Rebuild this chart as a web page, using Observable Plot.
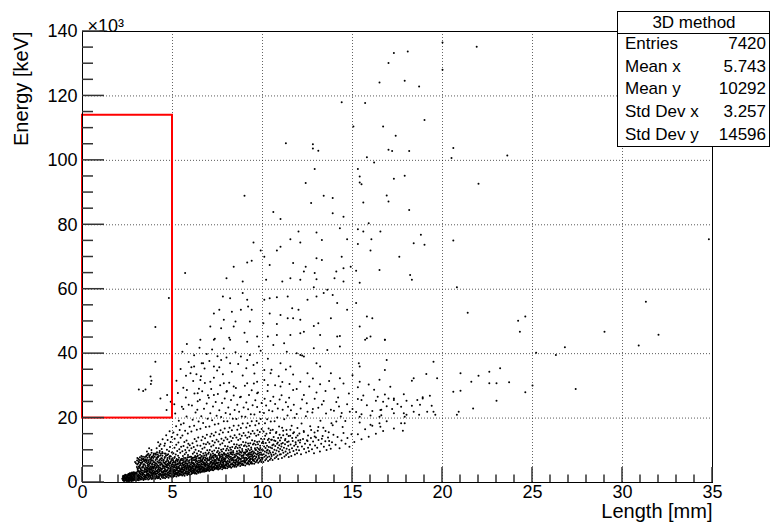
<!DOCTYPE html>
<html><head><meta charset="utf-8">
<script src="https://cdn.jsdelivr.net/npm/d3@7"></script>
<script src="https://cdn.jsdelivr.net/npm/@observablehq/plot@0.6"></script>
<style>
html,body{margin:0;padding:0;background:#fff;overflow:hidden;}
#chart{position:relative;width:771px;height:525px;}
#ticks{position:absolute;left:0;top:0;pointer-events:none;overflow:visible;}
</style></head><body><div id="chart"></div>
<script>
// Length [mm], Energy [keV ×10^3]
const coreBand = [
[2.21,1.2],[2.25,0.8],[2.28,1.6],[2.31,0.5],[2.33,2.0],[2.36,1.1],[2.38,1.4],[2.41,0.7],[2.43,1.9],[2.45,1.0],[2.47,2.3],[2.49,1.5],[2.3,1.3],[2.4,0.9],
[2.51,0.6],[2.52,1.8],[2.54,1.2],[2.55,2.6],[2.57,0.9],[2.58,2.1],[2.6,1.5],[2.62,0.5],[2.63,2.9],[2.65,1.1],[2.67,1.9],[2.68,2.4],[2.7,0.8],[2.72,1.4],[2.74,2.2],[2.75,3.1],[2.77,1.0],[2.79,1.7],[2.81,2.6],[2.83,0.6],[2.85,1.3],[2.86,2.0],[2.88,2.8],[2.9,1.6],[2.92,0.9],[2.94,2.3],[2.96,1.2],[2.98,3.0],[2.92,6.4],[2.97,6.0],
[3.01,1.4],[3.02,2.7],[3.04,0.8],[3.05,3.3],[3.07,1.9],[3.08,1.1],[3.1,2.4],[3.12,3.6],[3.13,0.7],[3.15,1.6],[3.17,2.9],[3.18,2.1],[3.2,1.2],[3.22,3.4],[3.23,0.9],[3.25,2.5],[3.27,1.7],[3.29,3.0],[3.3,1.0],[3.32,2.2],[3.34,3.7],[3.35,1.4],[3.37,2.7],[3.39,0.8],[3.41,1.9],[3.43,3.2],[3.45,2.4],[3.46,1.2],[3.48,3.5],[3.49,1.7],
[3.06,4.3],[3.16,4.7],[3.24,4.1],[3.33,4.9],[3.44,4.4],
[3.03,6.8],[3.09,5.9],[3.11,7.3],[3.14,6.3],[3.19,7.8],[3.21,5.5],[3.26,6.9],[3.28,7.5],[3.31,6.1],[3.36,8.0],[3.38,7.1],[3.4,5.7],[3.42,6.6],[3.47,7.9],[3.5,6.3],
[3.51,2.0],[3.52,1.0],[3.54,3.1],[3.55,1.6],[3.57,3.9],[3.58,2.5],[3.6,1.3],[3.62,3.4],[3.63,2.1],[3.65,0.9],[3.66,2.8],[3.68,1.7],[3.7,4.0],[3.71,2.3],[3.73,1.2],[3.75,3.6],[3.76,2.0],[3.78,3.0],[3.8,1.5],[3.82,2.6],[3.83,4.2],[3.85,1.1],[3.87,3.3],[3.88,2.2],[3.9,1.8],[3.92,3.8],[3.93,2.9],[3.95,1.4],[3.97,2.5],[3.99,3.5],
[3.53,4.6],[3.61,4.3],[3.67,4.9],[3.74,4.5],[3.79,5.0],[3.86,4.6],[3.94,4.4],[3.98,4.9],
[3.52,7.2],[3.56,8.4],[3.59,6.0],[3.61,7.7],[3.64,5.6],[3.66,8.9],[3.69,6.7],[3.72,7.9],[3.74,5.9],[3.77,8.6],[3.79,6.4],[3.81,7.3],[3.84,9.2],[3.86,5.5],[3.89,8.0],[3.91,6.9],[3.93,7.6],[3.96,8.8],[3.98,6.2],[3.58,9.6],[3.83,10.1],[3.7,10.6],
[4.01,1.9],[4.02,3.2],[4.04,1.2],[4.05,4.1],[4.07,2.5],[4.09,1.6],[4.1,3.6],[4.12,2.1],[4.13,4.6],[4.15,1.3],[4.17,2.9],[4.18,3.9],[4.2,1.8],[4.22,2.4],[4.23,4.3],[4.25,1.5],[4.27,3.3],[4.28,2.0],[4.3,4.7],[4.32,2.7],[4.33,1.1],[4.35,3.7],[4.37,2.2],[4.38,4.0],[4.4,1.7],[4.42,3.0],[4.43,2.5],[4.45,4.4],[4.47,1.4],[4.48,3.5],[4.5,2.3],
[4.03,5.3],[4.06,7.0],[4.08,8.6],[4.11,5.9],[4.14,9.4],[4.16,6.5],[4.19,7.8],[4.21,5.2],[4.24,8.2],[4.26,6.1],[4.29,9.8],[4.31,7.2],[4.34,5.6],[4.36,8.9],[4.39,6.8],[4.41,7.5],[4.44,5.1],[4.46,9.1],[4.49,6.4],
[4.51,3.1],[4.52,1.6],[4.54,4.4],[4.55,2.3],[4.57,3.7],[4.59,1.3],[4.6,2.8],[4.62,5.0],[4.63,2.0],[4.65,3.4],[4.67,4.7],[4.68,1.7],[4.7,2.6],[4.72,3.9],[4.73,5.2],[4.75,2.1],[4.77,3.2],[4.78,1.5],[4.8,4.3],[4.82,2.7],[4.83,3.6],[4.85,5.1],[4.87,1.9],[4.88,2.9],[4.9,4.1],[4.92,3.3],[4.93,2.3],[4.95,4.8],[4.97,1.7],[4.99,3.6],
[4.53,6.1],[4.56,7.6],[4.58,9.0],[4.61,5.7],[4.64,8.3],[4.66,6.6],[4.69,10.2],[4.71,7.1],[4.74,5.8],[4.76,8.8],[4.79,6.3],[4.81,9.7],[4.84,7.4],[4.86,11.0],[4.89,6.0],[4.91,8.1],[4.94,7.0],[4.96,9.3],[4.98,5.6],
[5.01,2.5],[5.02,4.2],[5.04,1.8],[5.06,3.4],[5.07,5.4],[5.09,2.8],[5.1,4.0],[5.12,2.0],[5.14,3.6],[5.15,5.7],[5.17,2.6],[5.19,4.6],[5.2,3.1],[5.22,1.9],[5.24,5.0],[5.25,3.8],[5.27,2.3],[5.29,4.3],[5.3,5.6],[5.32,3.0],[5.34,2.1],[5.35,4.9],[5.37,3.5],[5.39,2.7],[5.4,5.3],[5.42,4.0],[5.44,2.4],[5.45,3.3],[5.47,5.8],[5.49,4.5],
[5.51,3.0],[5.52,5.1],[5.54,2.2],[5.56,4.0],[5.57,6.2],[5.59,3.3],[5.6,4.7],[5.62,2.5],[5.64,5.6],[5.65,3.8],[5.67,2.1],[5.69,4.4],[5.7,6.4],[5.72,3.1],[5.74,5.2],[5.75,2.7],[5.77,4.1],[5.79,6.0],[5.8,3.5],[5.82,2.3],[5.84,4.8],[5.85,5.8],[5.87,3.0],[5.89,4.3],[5.9,2.6],[5.92,6.3],[5.94,3.7],[5.95,5.0],[5.97,2.4],[5.99,4.5],
[6.01,3.4],[6.02,5.6],[6.04,2.6],[6.06,4.5],[6.07,6.7],[6.09,3.7],[6.1,5.2],[6.12,2.9],[6.14,6.1],[6.15,4.2],[6.17,3.1],[6.19,5.0],[6.2,6.9],[6.22,3.6],[6.24,5.7],[6.25,2.8],[6.27,4.6],[6.29,6.4],[6.3,3.9],[6.32,5.3],[6.34,2.7],[6.35,4.9],[6.37,6.6],[6.39,3.3],[6.4,5.5],[6.42,4.1],[6.44,3.0],[6.45,6.2],[6.47,4.7],[6.49,3.6],
[6.51,4.0],[6.52,6.3],[6.54,3.1],[6.56,5.1],[6.57,7.3],[6.59,4.3],[6.6,5.9],[6.62,3.4],[6.64,6.8],[6.65,4.8],[6.67,3.6],[6.69,5.6],[6.7,7.5],[6.72,4.2],[6.74,6.3],[6.75,3.3],[6.77,5.2],[6.79,7.0],[6.8,4.5],[6.82,6.0],[6.84,3.5],[6.85,5.5],[6.87,7.4],[6.89,3.9],[6.9,6.2],[6.92,4.7],[6.94,3.7],[6.95,6.9],[6.97,5.3],[6.99,4.1],
[7.01,4.6],[7.03,6.8],[7.04,3.6],[7.06,5.7],[7.08,7.9],[7.09,4.9],[7.11,6.4],[7.13,3.9],[7.14,7.3],[7.16,5.3],[7.18,4.2],[7.19,6.1],[7.21,8.1],[7.23,4.7],[7.24,6.9],[7.26,3.8],[7.28,5.8],[7.29,7.6],[7.31,5.0],[7.33,6.6],[7.34,4.1],[7.36,6.0],[7.38,8.0],[7.39,4.5],[7.41,6.7],[7.43,5.2],[7.44,4.3],[7.46,7.4],[7.48,5.9],[7.49,4.8],
[7.51,5.1],[7.53,7.3],[7.54,4.0],[7.56,6.2],[7.58,8.5],[7.59,5.4],[7.61,6.9],[7.63,4.3],[7.64,7.9],[7.66,5.8],[7.68,4.7],[7.69,6.6],[7.71,8.7],[7.73,5.2],[7.74,7.4],[7.76,4.1],[7.78,6.3],[7.79,8.2],[7.81,5.5],[7.83,7.1],[7.84,4.5],[7.86,6.5],[7.88,8.6],[7.89,4.9],[7.91,7.2],[7.93,5.7],[7.94,4.4],[7.96,8.0],[7.98,6.4],[7.99,5.3],
[8.01,5.6],[8.03,7.8],[8.04,4.4],[8.06,6.7],[8.08,9.1],[8.09,5.9],[8.11,7.4],[8.13,4.8],[8.14,8.5],[8.16,6.3],[8.18,5.2],[8.19,7.1],[8.21,9.3],[8.23,5.7],[8.24,8.0],[8.26,4.6],[8.28,6.8],[8.29,8.8],[8.31,6.0],[8.33,7.6],[8.34,5.0],[8.36,7.0],[8.38,9.2],[8.39,5.4],[8.41,7.7],[8.43,6.2],[8.44,4.9],[8.46,8.6],[8.48,6.9],[8.49,5.8],
[8.51,6.1],[8.53,8.4],[8.54,4.9],[8.56,7.2],[8.58,9.7],[8.59,6.4],[8.61,8.0],[8.63,5.3],[8.64,9.1],[8.66,6.8],[8.68,5.7],[8.69,7.7],[8.71,9.9],[8.73,6.2],[8.74,8.6],[8.76,5.1],[8.78,7.4],[8.79,9.4],[8.81,6.5],[8.83,8.2],[8.84,5.5],[8.86,7.6],[8.88,9.8],[8.89,5.9],[8.91,8.3],[8.93,6.7],[8.94,5.4],[8.96,9.2],[8.98,7.5],[8.99,6.3],
[9.01,6.6],[9.03,8.9],[9.04,5.3],[9.06,7.7],[9.08,10.2],[9.09,6.9],[9.11,8.5],[9.13,5.8],[9.14,9.6],[9.16,7.3],[9.18,6.2],[9.19,8.2],[9.21,10.4],[9.23,6.7],[9.24,9.1],[9.26,5.6],[9.28,7.9],[9.29,9.9],[9.31,7.0],[9.33,8.7],[9.34,6.0],[9.36,8.1],[9.38,10.3],[9.39,6.4],[9.41,8.8],[9.43,7.2],[9.44,5.9],[9.46,9.7],[9.48,8.0],[9.49,6.8],
[9.51,7.1],[9.53,9.4],[9.54,5.8],[9.56,8.2],[9.58,10.6],[9.59,7.4],[9.61,9.0],[9.63,6.3],[9.64,10.1],[9.66,7.8],[9.68,6.7],[9.69,8.7],[9.71,10.8],[9.73,7.2],[9.74,9.6],[9.76,6.1],[9.78,8.4],[9.79,10.4],[9.81,7.5],[9.83,9.2],[9.84,6.5],[9.86,8.6],[9.88,10.7],[9.89,6.9],[9.91,9.3],[9.93,7.7],[9.94,6.4],[9.96,10.2],[9.98,8.5],[9.99,7.3],
[10.01,7.7],[10.03,10.0],[10.05,6.4],[10.07,8.8],[10.09,11.2],[10.11,8.0],[10.13,9.6],[10.15,6.9],[10.17,10.7],[10.19,8.4],[10.21,7.3],[10.23,9.3],[10.25,11.4],[10.27,7.8],[10.29,10.2],[10.31,6.7],[10.33,9.0],[10.35,11.0],[10.37,8.1],[10.39,9.8],[10.41,7.1],[10.43,9.2],[10.45,10.9],[10.47,7.5],[10.49,8.7],
[10.51,8.2],[10.53,10.6],[10.56,7.0],[10.58,9.4],[10.61,11.8],[10.63,8.6],[10.66,10.2],[10.68,7.5],[10.71,11.3],[10.73,9.0],[10.76,7.9],[10.78,9.9],[10.81,12.0],[10.83,8.4],[10.86,10.8],[10.88,7.3],[10.91,9.6],[10.93,11.6],[10.96,8.7],[10.98,10.4],
[11.02,8.8],[11.05,11.2],[11.08,7.6],[11.1,10.0],[11.13,12.3],[11.16,9.2],[11.19,10.8],[11.22,8.1],[11.25,11.9],[11.28,9.6],[11.31,8.5],[11.34,10.5],[11.37,12.6],[11.4,9.0],[11.43,11.4],[11.46,7.9],[11.49,10.2],
[11.52,9.4],[11.56,11.8],[11.6,8.2],[11.64,10.6],[11.68,12.9],[11.72,9.8],[11.76,11.4],[11.8,8.7],[11.84,12.5],[11.88,10.2],[11.92,9.1],[11.96,11.1],[11.99,13.0],
[12.03,10.0],[12.08,12.4],[12.14,8.8],[12.19,11.2],[12.25,13.5],[12.31,10.4],[12.36,12.0],[12.42,9.3],[12.47,13.1],[12.53,10.8],[12.58,9.7],[12.64,11.7],[12.69,13.8],[12.75,10.3],[12.81,12.7],[12.86,9.1],[12.92,11.5],[12.97,14.0],
[13.04,10.8],[13.11,13.2],[13.19,9.6],[13.26,12.0],[13.34,14.4],[13.41,11.1],[13.49,12.8],[13.56,10.1],[13.64,14.0],[13.71,11.6],[13.79,10.5],[13.86,12.5],[13.94,14.8],
[14.06,11.7],[14.17,14.1],[14.28,10.6],[14.39,13.0],[14.5,15.4],[14.61,12.0],[14.72,13.8],[14.83,11.1],[14.94,15.0],[14.45,17.2],
[15.1,12.6],[15.3,15.0],[15.5,13.4],[15.7,16.5],[15.9,14.2],[16.1,17.6],[16.3,15.1],[16.5,18.4],[16.7,16.0],[16.9,19.0],[15.4,18.6],[16.0,20.8],[15.2,21.9],[16.6,22.6]
];
const coreFill = [
[2.24,1.7],[2.27,0.6],[2.34,1.5],[2.39,2.2],[2.44,0.5],[2.46,1.3],[2.53,2.3],[2.56,0.7],[2.59,1.3],[2.61,2.5],[2.64,1.7],[2.69,2.9],[2.71,1.1],[2.73,0.5],[2.76,2.6],[2.78,1.5],[2.8,0.9],[2.82,2.2],[2.84,3.2],[2.87,1.0],[2.89,2.4],[2.91,1.8],[2.93,2.9],[2.95,0.7],[2.97,1.6],[2.99,2.2],
[3.02,4.8],[3.04,5.6],[3.07,3.9],[3.09,2.0],[3.12,6.6],[3.14,1.2],[3.16,3.1],[3.19,5.2],[3.21,2.6],[3.23,6.1],[3.26,3.8],[3.28,1.5],[3.31,4.6],[3.33,7.2],[3.36,2.9],[3.38,5.4],[3.41,1.1],[3.43,6.9],[3.46,4.1],[3.48,2.1],[3.5,5.1],[3.53,8.1],[3.55,3.4],[3.57,6.5],[3.6,2.8],[3.62,5.2],[3.64,7.0],[3.67,1.9],[3.69,4.3],[3.71,8.3],[3.73,3.2],[3.76,6.0],[3.78,4.9],[3.8,2.2],[3.82,7.7],[3.85,3.9],[3.87,5.8],[3.89,1.3],[3.91,4.6],[3.94,8.4],[3.96,3.0],[3.98,5.5],
[4.02,6.3],[4.04,4.5],[4.07,9.0],[4.09,2.8],[4.11,5.0],[4.14,7.3],[4.16,3.5],[4.18,8.7],[4.21,4.8],[4.23,1.4],[4.26,6.8],[4.28,3.9],[4.31,5.4],[4.33,8.4],[4.36,2.4],[4.38,6.0],[4.41,4.2],[4.43,9.5],[4.46,3.1],[4.48,7.0],[4.51,5.3],[4.53,2.6],[4.56,4.9],[4.58,7.9],[4.61,3.4],[4.63,6.4],[4.66,1.8],[4.68,5.6],[4.71,8.5],[4.73,3.0],[4.76,6.7],[4.78,4.5],[4.81,2.2],[4.83,5.9],[4.86,8.2],[4.88,3.8],[4.91,6.5],[4.93,4.4],[4.96,2.7],[4.98,7.4],
[5.02,6.1],[5.04,3.0],[5.07,4.7],[5.09,7.6],[5.12,2.4],[5.14,5.2],[5.17,3.8],[5.19,6.8],[5.22,4.4],[5.24,2.6],[5.27,5.9],[5.29,3.2],[5.32,7.1],[5.34,4.6],[5.37,2.3],[5.39,6.2],[5.42,3.6],[5.44,5.4],[5.47,4.1],[5.49,7.3],[5.52,3.5],[5.54,6.0],[5.57,4.5],[5.59,2.6],[5.62,5.3],[5.64,7.6],[5.67,3.9],[5.69,5.0],[5.72,2.9],[5.74,6.6],[5.77,4.7],[5.79,3.3],[5.82,5.7],[5.84,7.8],[5.87,4.2],[5.89,2.8],[5.92,5.2],[5.94,6.9],[5.97,3.8],[5.99,5.6],
[6.03,4.1],[6.06,6.3],[6.08,3.0],[6.11,7.7],[6.13,4.9],[6.16,3.4],[6.18,6.0],[6.21,5.4],[6.23,2.9],[6.26,7.2],[6.28,4.3],[6.31,6.8],[6.33,3.5],[6.36,5.8],[6.38,8.1],[6.41,4.6],[6.43,3.2],[6.46,5.4],[6.48,7.5],[6.51,5.0],[6.53,3.6],[6.56,6.7],[6.58,4.5],[6.61,8.0],[6.63,5.5],[6.66,3.9],[6.68,6.4],[6.71,4.7],[6.73,7.8],[6.76,5.9],[6.78,3.8],[6.81,6.9],[6.83,5.1],[6.86,4.2],[6.88,8.3],[6.91,5.6],[6.93,3.9],[6.96,7.0],[6.98,4.8],
[7.02,5.3],[7.05,7.1],[7.07,4.4],[7.1,6.0],[7.12,8.4],[7.15,4.8],[7.17,6.6],[7.2,5.5],[7.22,3.9],[7.25,7.8],[7.27,5.0],[7.3,6.3],[7.32,4.4],[7.35,8.6],[7.37,5.6],[7.4,7.0],[7.42,4.6],[7.45,6.2],[7.47,8.2],[7.5,5.8],[7.52,4.3],[7.55,6.9],[7.57,8.9],[7.6,5.1],[7.62,7.6],[7.65,4.5],[7.67,6.1],[7.7,8.0],[7.72,5.6],[7.75,6.8],[7.77,4.8],[7.8,7.7],[7.82,6.0],[7.85,9.1],[7.87,5.2],[7.9,6.7],[7.92,4.6],[7.95,7.4],[7.97,8.8],[8.0,6.2],[8.05,5.0],[8.1,8.2],[8.15,6.6],[8.2,4.9],[8.25,7.5],[8.3,9.4],[8.35,5.7],[8.4,6.9],[8.45,8.0],[8.5,5.4],
[8.55,6.7],[8.6,8.9],[8.65,5.9],[8.7,7.3],[8.75,9.5],[8.8,6.0],[8.85,8.4],[8.9,5.6],[8.95,7.8],[9.0,9.3],[9.05,6.4],[9.1,7.6],[9.15,9.8],[9.2,5.9],[9.25,8.6],[9.3,7.2],[9.35,6.3],[9.4,9.5],[9.45,7.6],[9.5,8.9],[9.55,6.6],[9.6,10.2],[9.65,8.0],[9.7,6.9],[9.75,9.0],[9.8,7.9],[9.85,10.1],[9.9,7.0],[9.95,8.8],
[10.05,12.2],[10.15,14.5],[10.25,9.9],[10.35,13.6],[10.45,16.2],[10.55,11.6],[10.65,13.0],[10.75,15.4],[10.85,12.4],[10.95,14.8],[11.05,12.0],[11.15,16.1],[11.25,13.1],[11.35,15.0],[11.45,12.7],[11.55,16.4],[11.65,13.8],[11.75,15.6],[11.85,11.9],[11.95,14.6],[12.1,13.2],[12.3,15.7],[12.5,12.9],[12.7,16.3],[12.9,14.3],[13.1,17.2],[13.3,13.6],[13.5,16.0],[13.7,12.9],[13.9,17.8]
];
const coreFill2 = [
[2.26,2.1],[2.29,0.9],[2.32,1.8],[2.35,0.6],[2.37,2.4],[2.42,1.6],[2.48,0.8],[2.5,2.0],[2.53,0.4],[2.56,1.5],[2.59,2.7],[2.61,0.8],[2.64,2.2],[2.66,0.7],[2.69,1.4],[2.71,2.7],[2.73,1.8],[2.76,0.6],[2.78,2.9],[2.81,1.2],[2.84,2.4],[2.86,0.8],[2.89,1.9],[2.91,3.1],[2.94,1.1],[2.96,2.6],[2.99,0.8],
[3.03,2.2],[3.05,7.6],[3.08,4.4],[3.1,1.5],[3.13,5.0],[3.15,3.4],[3.18,7.0],[3.2,4.4],[3.22,1.9],[3.25,5.8],[3.27,8.2],[3.3,3.2],[3.32,6.4],[3.35,2.4],[3.37,4.8],[3.4,7.4],[3.42,3.6],[3.45,5.6],[3.47,1.6],[3.49,7.0],[3.52,4.0],[3.54,6.9],[3.56,2.3],[3.59,4.6],[3.61,8.6],[3.63,3.7],[3.66,6.2],[3.68,2.5],[3.7,5.4],[3.72,3.5],[3.75,7.2],[3.77,1.7],[3.79,4.1],[3.81,6.8],[3.84,3.0],[3.86,8.0],[3.88,5.0],[3.9,2.6],[3.93,6.4],[3.95,4.8],[3.97,9.0],[3.99,2.0],
[4.01,8.0],[4.03,2.7],[4.06,5.8],[4.08,3.4],[4.1,7.6],[4.13,1.7],[4.15,5.4],[4.17,8.0],[4.2,3.2],[4.22,6.2],[4.24,4.0],[4.27,9.2],[4.29,2.6],[4.32,6.3],[4.34,4.4],[4.37,7.5],[4.39,3.3],[4.42,5.7],[4.44,8.3],[4.47,2.0],[4.49,4.9],[4.52,7.0],[4.54,3.6],[4.57,6.0],[4.59,4.1],[4.62,8.9],[4.64,2.5],[4.67,5.2],[4.69,3.7],[4.72,7.6],[4.74,4.6],[4.77,2.4],[4.79,5.5],[4.82,7.9],[4.84,3.3],[4.87,6.2],[4.89,4.6],[4.92,2.0],[4.94,5.4],[4.97,3.9],
[5.01,5.0],[5.03,3.8],[5.06,6.6],[5.08,2.2],[5.11,4.8],[5.13,3.3],[5.16,6.4],[5.18,2.9],[5.21,5.5],[5.23,4.1],[5.26,7.0],[5.28,2.6],[5.31,4.7],[5.33,3.6],[5.36,6.0],[5.38,4.4],[5.41,2.9],[5.43,6.8],[5.46,3.9],[5.48,2.5],[5.51,4.2],[5.53,6.9],[5.56,3.1],[5.58,5.5],[5.61,3.9],[5.63,6.4],[5.66,2.9],[5.68,4.8],[5.71,5.8],[5.73,3.5],[5.76,7.0],[5.78,4.3],[5.81,2.8],[5.83,5.3],[5.86,6.7],[5.88,3.6],[5.91,4.7],[5.93,3.1],[5.96,6.1],[5.98,4.0],
[6.02,4.9],[6.04,7.2],[6.07,3.4],[6.09,5.9],[6.12,4.5],[6.14,7.0],[6.17,3.8],[6.19,5.6],[6.22,4.1],[6.24,7.8],[6.27,3.1],[6.29,5.0],[6.32,4.6],[6.34,7.4],[6.37,3.7],[6.39,6.0],[6.42,5.0],[6.44,3.4],[6.47,6.8],[6.49,4.4],[6.52,5.6],[6.54,7.7],[6.57,4.0],[6.59,6.5],[6.62,4.9],[6.64,3.3],[6.67,7.1],[6.69,4.5],[6.72,6.1],[6.74,3.8],[6.77,5.6],[6.79,4.2],[6.82,7.7],[6.84,5.2],[6.87,3.6],[6.89,6.5],[6.92,4.3],[6.94,7.5],[6.97,5.8],[6.99,3.9],
[7.03,5.0],[7.06,7.6],[7.09,4.0],[7.12,6.2],[7.15,5.0],[7.18,7.7],[7.21,4.4],[7.24,5.9],[7.27,8.4],[7.3,4.7],[7.33,7.0],[7.36,5.4],[7.39,8.3],[7.42,6.0],[7.45,4.9],[7.48,7.7],[7.51,6.1],[7.54,4.7],[7.57,7.0],[7.6,5.5],[7.63,8.3],[7.66,6.4],[7.69,4.9],[7.72,7.0],[7.75,5.3],[7.78,8.6],[7.81,6.3],[7.84,5.0],[7.87,7.5],[7.9,4.7],[7.93,6.6],[7.96,5.4],[7.99,8.4],
[8.03,6.0],[8.07,8.4],[8.11,5.4],[8.15,7.9],[8.19,6.4],[8.23,8.9],[8.27,5.6],[8.31,7.2],[8.35,8.6],[8.39,6.4],[8.43,5.2],[8.47,7.9],[8.51,6.8],[8.55,9.0],[8.59,5.6],[8.63,7.6],[8.67,6.3],[8.71,8.8],[8.75,5.9],[8.79,7.1],[8.83,9.2],[8.87,6.6],[8.91,5.5],[8.95,8.5],[8.99,7.0],[9.03,6.1],[9.07,9.4],[9.11,7.0],[9.15,5.9],[9.19,8.8],[9.23,7.6],[9.27,6.5],[9.31,9.2],[9.35,7.4],[9.39,5.9],[9.43,8.4],[9.47,6.9]
];
const upperCloud = [
[4.12,10.6],[4.27,11.3],[4.4,10.4],[4.2,12.5],[4.45,13.4],[4.33,11.9],
[4.58,12.1],[4.73,13.2],[4.9,12.6],[4.65,14.7],[4.84,15.9],[4.95,14.1],[4.55,11.4],
[5.03,7.0],[5.05,9.1],[5.08,6.3],[5.11,10.8],[5.13,7.9],[5.16,6.1],[5.18,8.7],[5.21,11.7],[5.23,7.3],[5.26,9.8],[5.28,6.6],[5.31,8.3],[5.33,12.4],[5.36,7.7],[5.38,10.3],[5.41,6.4],[5.43,9.2],[5.46,7.1],[5.48,11.1],[5.12,13.6],[5.27,14.8],[5.4,16.3],[5.2,17.5],[5.45,13.9],[5.05,15.5],[5.35,19.2],[5.15,21.4],[5.47,18.0],
[5.53,7.4],[5.55,9.7],[5.58,8.2],[5.61,11.3],[5.63,7.0],[5.66,12.6],[5.68,8.8],[5.71,10.1],[5.73,7.6],[5.76,9.3],[5.78,13.0],[5.81,7.2],[5.83,10.9],[5.86,8.5],[5.88,12.0],[5.91,7.8],[5.93,9.9],[5.96,11.6],[5.98,8.0],[5.55,14.6],[5.7,16.1],[5.85,15.2],[5.62,18.4],[5.95,17.3],[5.78,20.5],[5.6,22.8],[5.9,24.1],[5.74,26.4],[5.52,23.5],
[6.03,8.0],[6.05,10.6],[6.08,7.5],[6.11,12.2],[6.13,8.9],[6.16,7.7],[6.18,11.0],[6.21,9.4],[6.23,13.5],[6.26,8.2],[6.28,10.2],[6.31,7.9],[6.33,12.8],[6.36,9.0],[6.38,11.5],[6.41,8.4],[6.43,14.0],[6.46,9.8],[6.48,7.6],[6.05,15.8],[6.2,17.6],[6.35,16.4],[6.12,19.5],[6.45,18.9],[6.28,21.7],[6.08,23.9],[6.4,25.2],[6.22,27.6],[6.47,29.1],[6.15,31.5],[6.38,22.6],
[6.53,8.6],[6.55,11.4],[6.58,9.5],[6.61,13.1],[6.63,8.2],[6.66,10.5],[6.68,14.2],[6.71,9.0],[6.73,12.0],[6.76,8.4],[6.78,10.9],[6.81,13.7],[6.83,9.2],[6.86,11.9],[6.88,8.7],[6.91,14.8],[6.93,10.0],[6.96,12.5],[6.98,8.9],[6.55,16.7],[6.7,18.5],[6.85,17.2],[6.6,20.6],[6.95,19.8],[6.75,22.9],[6.52,25.7],[6.9,24.5],[6.65,28.3],[6.8,30.9],[6.58,33.0],[6.97,27.1],
[7.02,9.3],[7.05,12.0],[7.07,10.1],[7.1,14.3],[7.12,8.8],[7.15,11.2],[7.17,15.1],[7.2,9.6],[7.22,12.9],[7.25,9.0],[7.27,11.6],[7.3,14.6],[7.32,9.9],[7.35,12.4],[7.37,8.6],[7.4,15.6],[7.42,10.7],[7.45,13.3],[7.47,9.4],[7.05,17.4],[7.2,19.3],[7.35,18.0],[7.1,21.5],[7.45,20.7],[7.25,23.6],[7.02,26.3],[7.4,25.0],[7.15,29.0],[7.3,32.5],[7.48,34.8],
[7.52,9.8],[7.55,12.7],[7.57,10.6],[7.6,15.0],[7.62,9.3],[7.65,11.8],[7.67,16.2],[7.7,10.2],[7.72,13.6],[7.75,9.6],[7.77,12.2],[7.8,15.5],[7.82,10.4],[7.85,13.0],[7.87,9.1],[7.9,16.8],[7.92,11.3],[7.95,14.0],[7.97,9.9],[7.55,18.2],[7.7,20.3],[7.85,19.0],[7.6,22.4],[7.95,21.6],[7.75,24.7],[7.52,27.5],[7.9,26.1],[7.65,30.2],[7.8,33.6],
[8.02,10.5],[8.05,13.4],[8.07,11.2],[8.1,15.7],[8.12,10.0],[8.15,12.5],[8.17,17.0],[8.2,10.8],[8.22,14.3],[8.25,10.2],[8.27,12.9],[8.3,16.2],[8.32,11.0],[8.35,13.8],[8.37,9.8],[8.4,17.6],[8.42,11.9],[8.45,14.7],[8.47,10.6],[8.05,19.0],[8.2,21.2],[8.35,19.8],[8.1,23.3],[8.45,22.5],[8.25,25.6],[8.02,28.4],[8.4,27.0],[8.15,31.0],[8.3,34.4],
[8.52,11.1],[8.55,14.0],[8.57,11.8],[8.6,16.4],[8.62,10.7],[8.65,13.2],[8.67,17.7],[8.7,11.5],[8.72,15.0],[8.75,10.9],[8.77,13.6],[8.8,16.9],[8.82,11.7],[8.85,14.5],[8.87,10.4],[8.9,18.3],[8.92,12.6],[8.95,15.4],[8.97,11.3],[8.55,19.7],[8.7,22.0],[8.85,20.5],[8.6,24.1],[8.95,23.3],[8.75,26.5],[8.52,29.3],
[9.02,11.6],[9.05,14.6],[9.07,12.4],[9.1,17.1],[9.12,11.2],[9.15,13.9],[9.17,18.4],[9.2,12.1],[9.22,15.6],[9.25,11.4],[9.27,14.2],[9.3,17.6],[9.32,12.2],[9.35,15.1],[9.37,10.9],[9.4,19.0],[9.42,13.1],[9.45,16.0],[9.47,11.8],[9.05,20.4],[9.2,22.7],[9.35,21.2],[9.1,24.8],[9.45,24.0],[9.25,27.2],[9.02,30.0],[9.4,28.6],
[9.52,12.1],[9.55,15.2],[9.57,12.9],[9.6,17.8],[9.62,11.7],[9.65,14.5],[9.67,19.1],[9.7,12.6],[9.72,16.2],[9.75,11.9],[9.77,14.8],[9.8,18.3],[9.82,12.7],[9.85,15.7],[9.87,11.4],[9.9,19.7],[9.92,13.6],[9.95,16.6],[9.97,12.3],[9.55,21.1],[9.7,23.4],[9.85,21.9],[9.6,25.5],[9.95,24.7],[9.75,27.9],[9.52,30.7],
[10.02,12.7],[10.06,15.8],[10.1,13.5],[10.14,18.4],[10.18,12.3],[10.22,15.1],[10.26,19.6],[10.3,13.2],[10.34,16.8],[10.38,12.5],[10.42,15.4],[10.46,18.9],[10.48,13.3],[10.08,21.6],[10.2,23.9],[10.36,22.4],[10.12,26.0],[10.44,25.3],[10.28,28.4],
[10.52,13.3],[10.57,16.4],[10.62,14.1],[10.67,19.0],[10.72,12.9],[10.77,15.7],[10.82,20.2],[10.87,13.8],[10.92,17.4],[10.97,13.0],[10.55,22.1],[10.7,24.4],[10.85,23.0],[10.6,26.6],[10.95,25.8],
[11.03,13.9],[11.09,17.0],[11.15,14.7],[11.21,19.6],[11.27,13.5],[11.33,16.3],[11.39,20.8],[11.45,14.4],[11.12,22.6],[11.3,24.9],[11.42,23.5],[11.06,27.1],[11.48,26.3],
[11.54,14.5],[11.62,17.6],[11.7,15.3],[11.78,20.1],[11.86,14.0],[11.94,16.9],[11.58,22.4],[11.74,24.1],[11.9,21.3],
[12.05,15.2],[12.17,18.3],[12.29,16.0],[12.41,20.6],[12.53,14.6],[12.65,17.5],[12.77,21.7],[12.89,15.5],[12.12,23.0],[12.46,24.6],[12.8,22.8],
[13.07,16.1],[13.22,19.2],[13.38,17.0],[13.53,21.4],[13.68,15.6],[13.83,18.4],[13.97,22.3],[13.3,24.2],
[14.1,18.9],[14.35,20.5],[14.6,19.1],[14.85,22.0],[14.25,23.6]
];
const midCloud = [
[5.1,24.3],[5.3,27.8],[5.22,31.6],[5.45,35.2],[5.6,29.4],[5.75,33.1],[5.9,37.4],[5.55,40.6],[5.8,43.0],[6.05,35.8],[6.2,39.5],[6.33,33.6],[6.5,41.8],[6.62,37.0],[6.78,35.4],[6.9,39.9],[7.05,37.7],[7.2,41.3],[7.35,44.6],[7.5,39.2],[7.6,35.8],[7.85,41.6],[8.0,38.8],[8.15,44.9],[8.5,40.4],[8.65,36.8],[8.9,33.2],[9.1,35.5],[9.3,39.6],[9.55,33.8],[9.7,37.2],[9.9,40.9],[10.1,31.8],[10.3,38.4],[10.5,35.0],[10.7,30.2],[10.9,33.0],[11.1,31.2],[11.3,35.1],[11.5,30.6],[11.7,33.5],[11.9,29.0],[12.1,31.3],[12.3,27.2],[12.6,29.8],[12.8,32.3],[13.0,27.9],[13.2,30.5],[13.5,28.4],[13.7,31.5],[14.0,29.1],[14.2,26.4],[14.5,30.7],[14.8,27.6],[15.0,33.3],[15.3,29.6],[15.6,27.0],[15.9,30.4],[16.2,28.8],[16.5,31.9],[16.8,27.3],[17.1,29.7],
[12.2,25.8],[12.5,22.0],[12.9,26.0],[13.1,23.2],[13.4,25.3],[13.8,22.6],[14.1,25.0],[14.4,21.6],[14.7,24.3],[15.0,22.8],[15.3,25.9],[15.5,21.2],[15.8,24.0],[16.1,22.2],[16.3,25.4],[16.6,20.9],[16.9,23.7],[17.2,22.8],[17.5,24.4]
];
const sparse = [
[17.3,133.3],[18.07,133.8],[17.0,130.2],[16.5,124.2],[17.9,124.7],[18.7,122.9],[20.0,136.6],[21.9,135.3],[14.4,118],[15.7,117.8],[19.0,112.5],[16.7,110.5],[17.4,107.6],[15.05,110.5],[17.0,103.3],[17.2,102.9],[18.15,102.9],[20.6,103.8],[20.5,100.7],[23.6,101.5],[15.8,101],[16.2,99.3],[15.3,97.3],[15.4,95],[15.4,93.1],[15.5,92.6],[17.3,94.3],[17.9,95.2],[16.9,89.1],[15.6,86.9],[18.15,84.6],[22.0,92.7],[13.9,88.3],[13.9,83.6],[14.5,82.5],[15.9,80.5],[14.3,78.9],[15.3,78.6],[20.0,128.1],
[11.3,105.3],[12.8,105],[12.8,103.7],[13.1,103],[12.9,97.3],[12.4,93],[9.0,89],[13.4,89],[12.7,86.8],[10.6,84],[11.0,81.8],
[17.0,87.2],[12.0,77.9],[11.55,75.5],[12.1,74.5],[13.0,77.6],[13.3,75.3],[14.7,75.5],[15.3,74],[15.6,77.9],[16.05,75.5],[16.55,77.9],[16.0,72],[9.5,74.5],[9.9,72],[10.8,72],[11.0,73.2],[13.0,69.6],[13.3,69.1],[14.4,70.1],[10.1,70.1],[9.4,68.8],[9.15,68.3],[8.4,67],[5.7,65],[10.4,67.5],[11.7,68.1],[12.4,67],[12.3,65.5],[12.9,65],[14.1,65.5],[14.5,66.5],[14.9,67],[15.2,65.7],[16.5,66],[17.6,70.1],
[8.0,63.4],[8.9,62.4],[10.2,62.9],[11.1,62.4],[11.55,63.4],[12.1,62.9],[13.0,63.1],[14.0,63.4],[14.5,62.4],[15.4,62],[12.85,60.6],[13.6,59.8],[7.8,57.7],[8.2,57.2],[8.9,58.8],[9.15,56.7],[9.2,54.6],[9.4,53.6],[8.8,53.6],[8.3,53],[7.6,53.6],[7.3,52.5],[10.1,56.7],[10.4,57.2],[10.8,57.5],[11.4,57.7],[11.65,54.1],[12.0,53.6],[12.5,56.7],[13.0,57.7],[13.4,58.8],[13.9,58.2],[14.15,55.7],[14.7,53.6],[15.8,51.5],[16.1,51],[10.4,52.5],[11.0,52],[11.4,51],[11.7,51],[12.1,50.5],[7.85,50.5],[8.5,50],[9.3,50],[10.05,49.4],[10.8,49.2],[12.85,48.6],[13.1,49.4],[13.8,51],[14.15,45.3],[14.3,45.5],[13.2,45.8],[12.1,46.3],[12.3,46.8],[11.55,45.8],[10.8,45.8],[10.3,45.3],[9.7,45.3],[9.0,46.5],[8.4,48.4],[7.7,47.9],[7.1,48.4],[6.55,44.3],[7.3,44.3],[8.2,44.3],[9.15,43.7],[9.8,42.2],[10.6,42.7],[11.2,43.2],[11.35,40.6],[11.9,40.1],[12.1,39.6],[12.2,39.4],[12.3,39.1],[12.85,41.7],[13.6,41.1],[14.3,42.2],[15.7,44.3],[16.0,45.3],[16.8,44.3],[16.9,38],[15.4,31.3],[15.4,36],[14.3,32.4],[13.8,33.9],[13.2,36],[13.0,37],[12.5,33.9],[11.55,36],[11.0,37],[10.45,33.9],[10.1,34.9],[9.5,36.5],[9.15,38],[8.8,39.1],[8.2,37],[7.7,38],[7.3,36],[6.7,37],[6.2,36],[6.0,33.9],[6.55,31.8],[7.1,31.3],[7.85,30.8],[8.4,29.8],[9.15,30.8],[9.7,31.3],[10.3,30.3],[11.0,29.8],[11.7,28.7],[5.8,28.7],[6.4,27.7],[7.3,27.2],[8.0,28.2],[8.8,26.6],[9.7,27.7],
[18.8,76.9],[18.4,74.3],[19.0,73.8],[20.6,75.1],[18.2,64.4],[18.3,62.9],[20.8,60.6],[21.4,52.7],[24.2,50.2],[24.6,51.5],[24.3,46.8],[29.0,46.8],[31.3,56.1],[32.0,45.9],[30.9,42.5],[34.8,75.5],[26.8,42],[25.2,40.3],[26.3,39.6],[19.5,37.5],[19.1,33.7],[18.4,32.4],[19.7,32.4],[21.0,33.9],[21.6,31.3],[22.0,33.1],[22.6,34.4],[23.2,35.5],[22.6,30.8],[23.0,30.8],[23.7,31.1],[20.6,28.2],[21.0,28.5],[24.6,28],[25.0,30.1],[27.4,29],[17.85,27.4],[19.3,26.9],[18.9,26.5],
[18.3,31.6],[23.0,25.4],[21.7,23],[20.9,22],[20.8,21],[17.3,26.1],[18.0,25.4],[18.6,25.6],[18.9,26.1],[17.7,23.5],[18.3,23.8],[18.75,24.1],[19.4,23.8],[17.85,21.5],[18.4,22],[19.15,22],[19.5,22],[18.0,21],[18.7,21],[19.6,21],[17.3,16.8],[17.8,16.1],[17.7,18.4],[17.9,18.4],
[15.2,55.7],[15.4,48.4],[15.8,44.8],[16.8,44.3],[15.35,37],[16.8,34.9],[15.5,25.6],[16.4,26.6],[16.7,25.1],[17.0,26.1],[17.3,25.6],[16.55,22.5],[17.3,21.5],[16.5,20.4],[17.9,20.4],[15.4,20.4],[16.0,17.9],[16.55,17.3],
[3.78,32.9],[3.83,31.6],[3.8,30.6],[3.5,28.9],[3.13,28.9],[3.37,28.4],[4.33,26.1],[4.7,27.2],[4.05,48.3],[4.67,22.5],[4.9,25.1],[4.8,57.3],[4.05,37.5]
];

const xMajor = [0, 5, 10, 15, 20, 25, 30, 35];
const xMinor = [1,2,3,4,6,7,8,9,11,12,13,14,16,17,18,19,21,22,23,24,26,27,28,29,31,32,33,34];
const yMajor = [0, 20, 40, 60, 80, 100, 120, 140];
const yMinor = [5,10,15,25,30,35,45,50,55,65,70,75,85,90,95,105,110,115,125,130,135];
const regionLength = [0, 5];
const regionEnergy = [20, 114];
const xTitle = "Length [mm]";
const yTitle = "Energy [keV]";
const yExponent = "×10³";
const statTitle = "3D method";
const statLabels = ["Entries", "Mean x", "Mean y", "Std Dev x", "Std Dev y"];
const statValues = ["7420", "5.743", "10292", "3.257", "14596"];

const points = [...coreBand, ...coreFill, ...coreFill2, ...upperCloud, ...midCloud, ...sparse].map(([x, y]) => ({x, y}));
const region = [{x1: regionLength[0], x2: regionLength[1], y1: regionEnergy[0], y2: regionEnergy[1]}];
const font = "'Liberation Sans', Arial, Helvetica, sans-serif";
const W = 771, H = 525, ML = 82, MR = 59, MT = 31, MB = 43;

const plot = Plot.plot({
  width: W, height: H,
  marginLeft: ML, marginRight: MR, marginTop: MT, marginBottom: MB,
  style: {fontFamily: font, fontSize: "18px", color: "#000", background: "#fff"},
  x: {domain: [0, 35], label: null},
  y: {domain: [0, 140], label: null},
  marks: [
    Plot.gridX(xMajor.slice(1, -1), {stroke: "#000", strokeOpacity: 0.6, strokeDasharray: "1,2"}),
    Plot.gridY(yMajor.slice(1, -1), {stroke: "#000", strokeOpacity: 0.65, strokeDasharray: "1,2"}),
    Plot.dot(points, {x: "x", y: "y", r: 1, fill: "#000", stroke: null}),
    Plot.rect(region, {x1: "x1", x2: "x2", y1: "y1", y2: "y2", fill: "none", stroke: "#ff0000", strokeWidth: 2}),
    Plot.frame({stroke: "#000"}),
    Plot.axisX(xMajor, {anchor: "bottom", tickSize: 0, tickPadding: 3, label: null}),
    Plot.axisY(yMajor, {anchor: "left", tickSize: 0, tickPadding: 5, label: null}),
    Plot.text([xTitle], {frameAnchor: "bottom-right", dy: 35, textAnchor: "end", fontSize: 20}),
    Plot.text([yTitle], {frameAnchor: "top-left", dx: -69, rotate: -90, textAnchor: "end", fontSize: 20}),
    Plot.text([yExponent], {frameAnchor: "top-left", dx: 5, dy: -12, textAnchor: "start", fontSize: 18})
  ]
});
document.getElementById("chart").appendChild(plot);

// inward ROOT-style ticks, positioned through the plot's own x and y scales,
// drawn in a separate overlay layer on top of the chart
const sx = plot.scale("x"), sy = plot.scale("y");
const xPix = v => sx.apply(v), yPix = v => sy.apply(v);
const axisY0 = yPix(0), axisX0 = xPix(0);
const overlay = d3.select("#chart").append("svg").attr("id", "ticks")
  .attr("width", W).attr("height", H).attr("viewBox", `0 0 ${W} ${H}`);
const tg = overlay.append("g").attr("stroke", "#333").attr("stroke-width", 1.5).attr("fill", "none");
const tick = (x1, y1, x2, y2) => tg.append("line").attr("x1", x1).attr("y1", y1).attr("x2", x2).attr("y2", y2);
xMajor.forEach(v => tick(xPix(v), axisY0, xPix(v), axisY0 - 15));
xMinor.forEach(v => tick(xPix(v), axisY0, xPix(v), axisY0 - 7.5));
yMajor.forEach(v => tick(axisX0, yPix(v), axisX0 + 22, yPix(v)));
yMinor.forEach(v => tick(axisX0, yPix(v), axisX0 + 11, yPix(v)));

// statistics box (ROOT-style)
const g = overlay.append("g").attr("font-family", font).attr("font-size", 17).attr("fill", "#000");
g.append("rect").attr("x", 617.5).attr("y", 11.5).attr("width", 152).attr("height", 135)
  .attr("fill", "#fff").attr("stroke", "#000");
g.append("line").attr("x1", 617.5).attr("x2", 769.5).attr("y1", 33.5).attr("y2", 33.5).attr("stroke", "#000");
g.append("text").attr("x", 694).attr("y", 22).attr("text-anchor", "middle").attr("dominant-baseline", "central").text(statTitle);
statLabels.forEach((lab, i) => {
  const yy = 43.5 + i * 22.7;
  g.append("text").attr("x", 625).attr("y", yy).attr("text-anchor", "start").attr("dominant-baseline", "central").text(lab);
  g.append("text").attr("x", 766).attr("y", yy).attr("text-anchor", "end").attr("dominant-baseline", "central").text(statValues[i]);
});
</script>
</body></html>
